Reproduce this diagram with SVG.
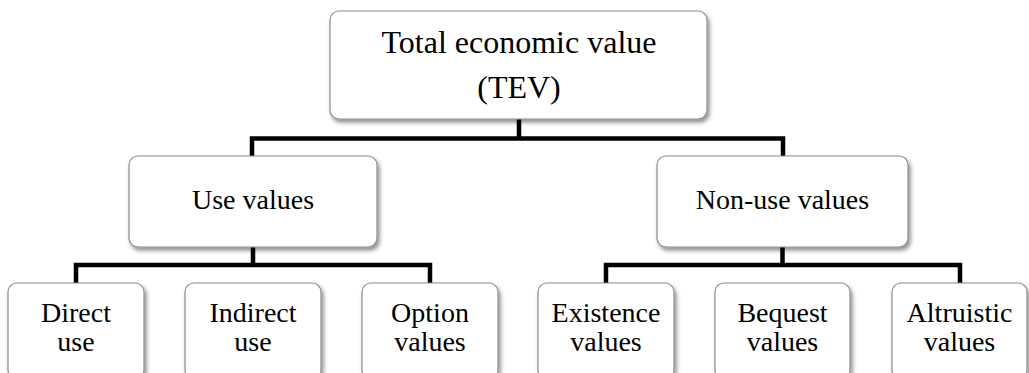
<svg xmlns="http://www.w3.org/2000/svg" width="1029" height="373" viewBox="0 0 1029 373">
<defs>
<filter id="sh" x="-10%" y="-10%" width="130%" height="140%">
<feDropShadow dx="2" dy="3" stdDeviation="2" flood-color="#000" flood-opacity="0.45"/>
</filter>
</defs>
<style>
.box{fill:#fff;stroke:#8c8c8c;stroke-width:1.2;filter:url(#sh)}
.t{font-family:"Liberation Serif","Times New Roman",serif;font-size:28px;fill:#000;text-anchor:middle}
.big{font-size:32px}
.c{fill:none;stroke:#000;stroke-width:4.5;stroke-linejoin:miter;stroke-linecap:butt}
</style>
<rect width="1029" height="373" fill="#fff"/>
<g id="connectors">
<path class="c" d="M519,119 V138.5 M252,158 V138.5 H783 V158"/>
<path class="c" d="M253,247 V265 M76,285 V265 H430 V285"/>
<path class="c" d="M782.5,247 V265 M606,285 V265 H960 V285"/>
</g>
<g id="tev">
<rect class="box" x="330" y="11" width="377" height="108" rx="9"/>
<text class="t big" x="519" y="53">Total economic value</text>
<text class="t big" x="519" y="98">(TEV)</text>
</g>
<g id="use">
<rect class="box" x="129" y="156" width="248" height="91" rx="9"/>
<text class="t" x="253" y="209">Use values</text>
</g>
<g id="nonuse">
<rect class="box" x="657" y="156" width="251" height="91" rx="9"/>
<text class="t" x="782.5" y="209">Non-use values</text>
</g>
<g id="direct">
<rect class="box" x="8" y="283" width="136" height="96" rx="9"/>
<text class="t" x="76" y="322">Direct</text>
<text class="t" x="76" y="351">use</text>
</g>
<g id="indirect">
<rect class="box" x="185" y="283" width="136" height="96" rx="9"/>
<text class="t" x="253" y="322">Indirect</text>
<text class="t" x="253" y="351">use</text>
</g>
<g id="option">
<rect class="box" x="362" y="283" width="136" height="96" rx="9"/>
<text class="t" x="430" y="322">Option</text>
<text class="t" x="430" y="351">values</text>
</g>
<g id="existence">
<rect class="box" x="538" y="283" width="136" height="96" rx="9"/>
<text class="t" x="606" y="322">Existence</text>
<text class="t" x="606" y="351">values</text>
</g>
<g id="bequest">
<rect class="box" x="715" y="283" width="135" height="96" rx="9"/>
<text class="t" x="782.5" y="322">Bequest</text>
<text class="t" x="782.5" y="351">values</text>
</g>
<g id="altruistic">
<rect class="box" x="892" y="283" width="135" height="96" rx="9"/>
<text class="t" x="959.5" y="322">Altruistic</text>
<text class="t" x="959.5" y="351">values</text>
</g>
</svg>
